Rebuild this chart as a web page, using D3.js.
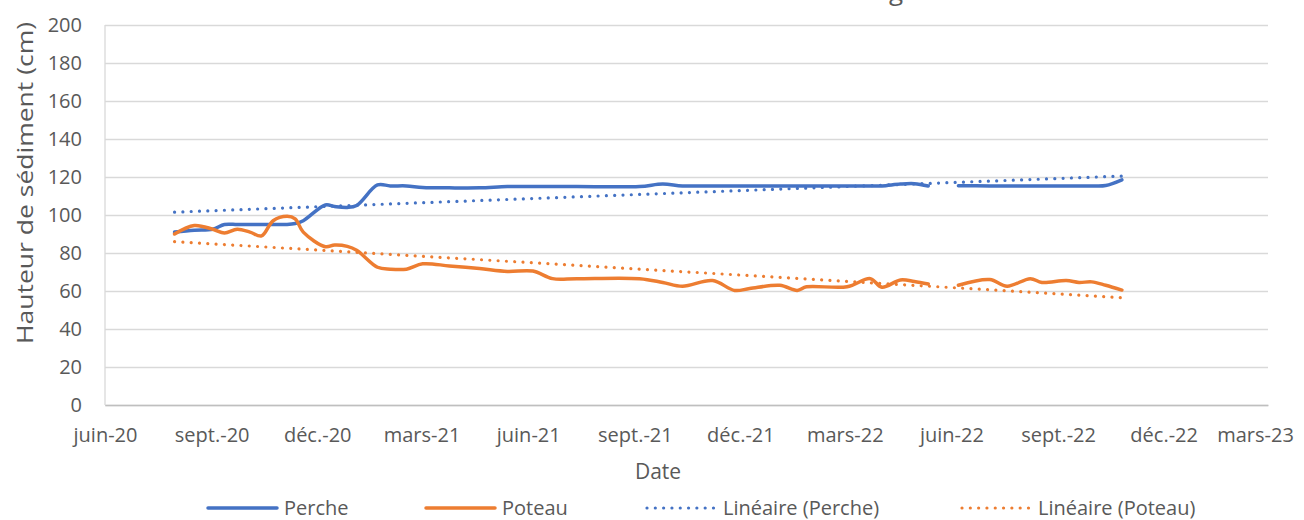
<!DOCTYPE html>
<html><head><meta charset="utf-8">
<script src="https://cdn.jsdelivr.net/npm/d3@7"></script>
<style>
body{margin:0;background:#fff;}
text{font-family:"Open Sans",sans-serif;fill:#595959;}
</style>
</head><body>
<svg id="c" width="1304" height="520"></svg>
<script>
// ---- data ----
const dates = ["2020-07-31","2020-08-17","2020-09-02","2020-09-12","2020-09-23","2020-10-04","2020-10-14","2020-10-24","2020-11-05","2020-11-12","2020-11-19","2020-12-08","2020-12-16","2020-12-27","2021-01-04","2021-01-22","2021-02-02","2021-02-16","2021-03-02","2021-03-25","2021-04-20","2021-05-14","2021-06-05","2021-06-22","2021-07-13","2021-09-05","2021-09-25","2021-10-12","2021-11-07","2021-11-26","2021-12-09","2022-01-04","2022-01-19","2022-01-27","2022-03-03","2022-03-23","2022-04-02","2022-04-18","2022-04-30","2022-05-12","2022-05-25","2022-06-07","2022-07-04","2022-07-19","2022-08-08","2022-08-18","2022-09-08","2022-09-19","2022-09-30","2022-10-12","2022-10-26"];
const perche = [91,92,92.5,95,95,95,95,95,95,95.5,97,105.3,104.5,104,105,115.8,115.3,115.3,114.5,114.3,114.3,115,115,115,115,115,116.3,115.3,115.3,115.3,115.3,115.3,115.3,115.3,115.3,115.3,115.3,116.3,116.5,115.3,null,115.4,115.3,115.3,115.3,115.3,115.3,115.3,115.3,115.5,118.5];
const poteau = [90,94.5,92.5,90.5,92.5,91,89,97,99.3,98,91,83.3,84.2,83.5,81.5,72.5,71.5,71.5,74.3,73.2,71.8,70.3,70.5,66.5,66.5,66.5,64.5,62.5,65.5,60.3,61.3,63,60.3,62.2,62.2,66.5,62,65.8,65,63.7,null,63,66,62.5,66.5,64.5,65.5,64.5,64.8,63,60.5];
const trendDates = ["2020-07-31","2022-10-26"];
const trendPerche = [101.5,120.5];
const trendPoteau = [86,56.5];
const yTicks = [0,20,40,60,80,100,120,140,160,180,200];
const xTickDates = ["2020-06-01","2020-09-01","2020-12-01","2021-03-01","2021-06-01","2021-09-01","2021-12-01","2022-03-01","2022-06-01","2022-09-01","2022-12-01","2023-03-01"];
const xTickLabels = ["juin-20","sept.-20","déc.-20","mars-21","juin-21","sept.-21","déc.-21","mars-22","juin-22","sept.-22","déc.-22","mars-23"];
const seriesNames = ["Perche","Poteau","Linéaire (Perche)","Linéaire (Poteau)"];
const colors = ["#4472C4","#ED7D31"];
const chartTitle = "Hauteur de sédiment au site de Marling";
const xTitle = "Date";
const yTitle = "Hauteur de sédiment (cm)";

// ---- chart ----
const parse = d3.timeParse("%Y-%m-%d");
const svg = d3.select("#c");
const L = 105, R = 1268, T = 25, B = 405;
const FS = 20;
const x = d3.scaleTime().domain([parse(xTickDates[0]), parse(xTickDates[xTickDates.length-1])]).range([L, R]);
const y = d3.scaleLinear().domain([0, 200]).range([B, T]);

// title (mostly above the visible area, as in the reference)
svg.append("text").attr("x", 903).attr("y", 0).attr("text-anchor", "end")
  .attr("font-size", 26).text(chartTitle);

// y axis with gridlines
const gy = svg.append("g").attr("transform", `translate(${L},0)`)
  .call(d3.axisLeft(y).tickValues(yTicks).tickSize(-(R - L)).tickPadding(23));
gy.select(".domain").remove();
gy.selectAll(".tick line").attr("stroke", "#D9D9D9").attr("stroke-width", 1.3);
gy.selectAll(".tick text").attr("font-size", FS).attr("fill", "#595959").style("font-family", '"Open Sans",sans-serif');
svg.append("line").attr("x1", L).attr("x2", L).attr("y1", T).attr("y2", B)
  .attr("stroke", "#D9D9D9").attr("stroke-width", 1.3);

// x axis
const gx = svg.append("g").attr("transform", `translate(0,${B})`)
  .call(d3.axisBottom(x).tickValues(xTickDates.map(parse)).tickFormat((d, i) => xTickLabels[i]).tickSize(0));
gx.select(".domain").attr("stroke", "#BFBFBF").attr("stroke-width", 1.5);
gx.selectAll(".tick text").attr("y", 37).attr("dy", 0).attr("font-size", FS)
  .attr("fill", "#595959").style("font-family", '"Open Sans",sans-serif')
  .attr("dx", (d, i) => i === xTickLabels.length - 1 ? -13 : 0);

// axis titles
svg.append("text").attr("x", 658).attr("y", 479).attr("text-anchor", "middle").attr("font-size", 21).text(xTitle);
svg.append("text").attr("transform", "translate(33,183) rotate(-90)").attr("text-anchor", "middle")
  .attr("font-size", 21).attr("textLength", 322).attr("lengthAdjust", "spacingAndGlyphs").text(yTitle);

// lines
const rows = dates.map((d, i) => ({ d: parse(d), p: perche[i], t: poteau[i] }));
const mk = key => d3.line().defined(r => r[key] != null).x(r => x(r.d)).y(r => y(r[key])).curve(d3.curveCatmullRom.alpha(0.5));
const trendRows = trendDates.map((d, i) => ({ d: parse(d), p: trendPerche[i], t: trendPoteau[i] }));
const mkT = key => d3.line().x(r => x(r.d)).y(r => y(r[key]));

svg.append("path").datum(trendRows).attr("d", mkT("p")).attr("fill", "none").attr("stroke", colors[0])
  .attr("stroke-width", 3.2).attr("stroke-linecap", "round").attr("stroke-dasharray", "0.01 8.3");
svg.append("path").datum(trendRows).attr("d", mkT("t")).attr("fill", "none").attr("stroke", colors[1])
  .attr("stroke-width", 3.2).attr("stroke-linecap", "round").attr("stroke-dasharray", "0.01 8.3");
svg.append("path").datum(rows).attr("d", mk("p")).attr("fill", "none").attr("stroke", colors[0])
  .attr("stroke-width", 3.5).attr("stroke-linecap", "round").attr("stroke-linejoin", "round");
svg.append("path").datum(rows).attr("d", mk("t")).attr("fill", "none").attr("stroke", colors[1])
  .attr("stroke-width", 3.5).attr("stroke-linecap", "round").attr("stroke-linejoin", "round");

// legend
const legX = [208, 426, 647, 962];
const legY = 508;
seriesNames.forEach((name, i) => {
  const g = svg.append("g");
  const ln = g.append("line").attr("x1", legX[i]).attr("x2", legX[i] + 69).attr("y1", legY).attr("y2", legY)
    .attr("stroke", colors[i % 2]);
  if (i < 2) ln.attr("stroke-width", 3.5).attr("stroke-linecap", "round");
  else ln.attr("stroke-width", 3.2).attr("stroke-linecap", "round").attr("stroke-dasharray", "0.01 8.3");
  g.append("text").attr("x", legX[i] + 76).attr("y", legY).attr("dy", "0.35em").attr("font-size", FS).text(name);
});
</script>
</body></html>
